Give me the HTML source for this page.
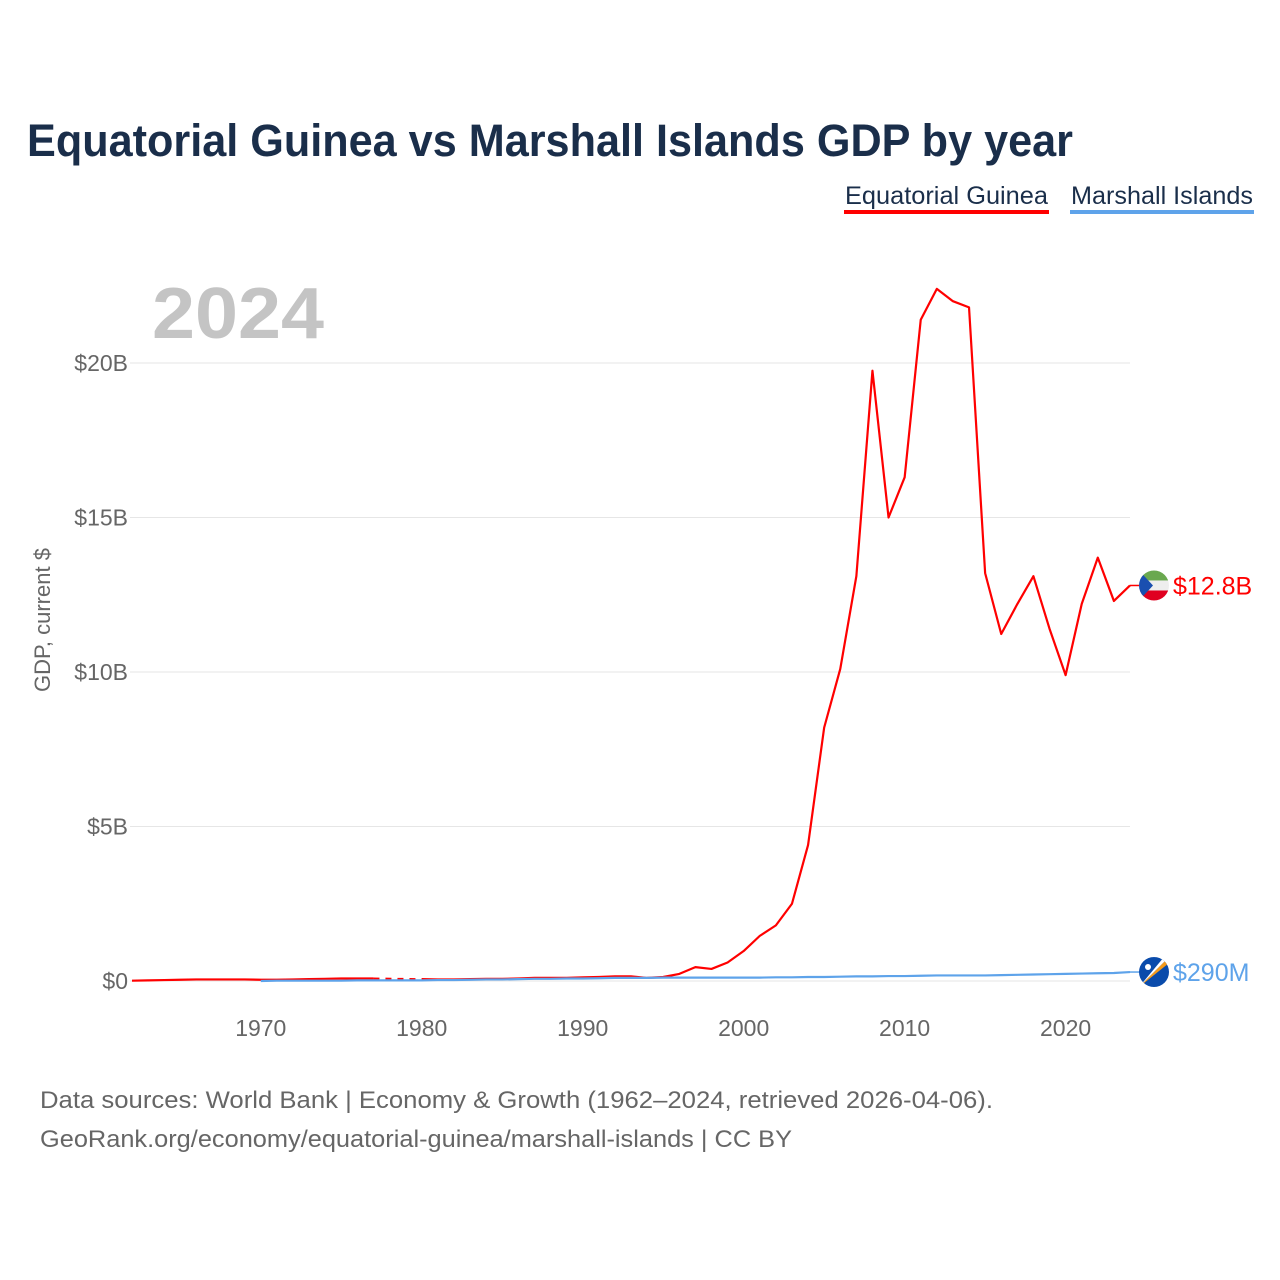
<!DOCTYPE html>
<html><head><meta charset="utf-8"><style>
body{margin:0;background:#fff;font-family:"Liberation Sans",sans-serif}
#wrap{position:relative;width:1280px;height:1280px;overflow:hidden}
</style></head><body>
<div id="wrap">
<svg id="chart" width="1280" height="1280">
<text x="27" y="156" font-size="45" font-weight="bold" fill="#1a2e4a" textLength="1046" lengthAdjust="spacingAndGlyphs">Equatorial Guinea vs Marshall Islands GDP by year</text>
<g><text x="845" y="204" font-size="25" fill="#1a2e4a" textLength="203" lengthAdjust="spacingAndGlyphs">Equatorial Guinea</text><rect x="844" y="210" width="205" height="4" fill="#ff0000"/></g>
<g><text x="1071" y="204" font-size="25" fill="#1a2e4a" textLength="182" lengthAdjust="spacingAndGlyphs">Marshall Islands</text><rect x="1070" y="210" width="184" height="4" fill="#5ea3ea"/></g>
<text x="152" y="338" font-size="72" font-weight="bold" fill="#c4c4c4" textLength="172" lengthAdjust="spacingAndGlyphs">2024</text>
<text transform="translate(50,620) rotate(-90)" font-size="22" fill="#666" text-anchor="middle">GDP, current $</text>
<g id="grid"></g><g id="yticks"></g><g id="xticks"></g><g id="lines"></g>
<text x="40" y="1108" font-size="24" fill="#666" textLength="953" lengthAdjust="spacingAndGlyphs">Data sources: World Bank | Economy &amp; Growth (1962–2024, retrieved 2026-04-06).</text>
<text x="40" y="1147" font-size="24" fill="#666" textLength="752" lengthAdjust="spacingAndGlyphs">GeoRank.org/economy/equatorial-guinea/marshall-islands | CC BY</text>
</svg></div>
<script>
const years=[];for(let y=1962;y<=2024;y++)years.push(y);
const egValues=[0.01,0.02,0.03,0.04,0.05,0.05,0.05,0.05,0.04,0.04,0.05,0.06,0.07,0.08,0.08,0.08,null,null,0.06,0.05,0.05,0.06,0.07,0.07,0.08,0.1,0.1,0.1,0.12,0.13,0.15,0.15,0.1,0.13,0.23,0.45,0.39,0.6,0.97,1.46,1.8,2.5,4.4,8.2,10.1,13.1,19.75,15.0,16.3,21.4,22.4,22.0,21.8,13.2,11.23,12.2,13.1,11.4,9.9,12.2,13.7,12.3,12.8];
const miValues=[null,null,null,null,null,null,null,null,0.0,0.01,0.01,0.01,0.01,0.01,0.02,0.02,0.02,0.02,0.02,0.03,0.03,0.04,0.05,0.05,0.06,0.07,0.07,0.08,0.08,0.09,0.1,0.1,0.1,0.11,0.11,0.11,0.11,0.11,0.11,0.11,0.12,0.12,0.13,0.13,0.14,0.15,0.15,0.16,0.16,0.17,0.18,0.18,0.18,0.18,0.19,0.2,0.21,0.22,0.23,0.24,0.25,0.26,0.29];
const yTickValues=[0,5,10,15,20];
const yTickLabels=["$0","$5B","$10B","$15B","$20B"];
const xTickValues=[1970,1980,1990,2000,2010,2020];
const X=y=>132+(y-1962)*(998/62);
const Y=v=>981-v*30.9;
const NS="http://www.w3.org/2000/svg";
function mk(t,a,p){const e=document.createElementNS(NS,t);for(const k in a)e.setAttribute(k,a[k]);p.appendChild(e);return e;}
const grid=document.getElementById('grid'),yt=document.getElementById('yticks'),xt=document.getElementById('xticks'),L=document.getElementById('lines');
yTickValues.forEach((v,i)=>{
 const g=mk('line',{x1:130,x2:1130,y1:Y(v),y2:Y(v),stroke:'#e6e6e6','stroke-width':1},grid);
 
 
 const t=mk('text',{x:128,y:Y(v)+8,'font-size':23,fill:'#666','text-anchor':'end'},yt);t.textContent=yTickLabels[i];
 
 
});
xTickValues.forEach(v=>{
 const t=mk('text',{x:X(v),y:1036,'font-size':23,fill:'#666','text-anchor':'middle'},xt);t.textContent=v;
 
 
});
function draw(vals,color,name){
 let segs=[],cur=[],last=null;
 vals.forEach((v,i)=>{if(v==null){if(cur.length)segs.push(cur);cur=[];}else{
   if(!cur.length&&last!=null&&last.i<i-1){const d=mk('line',{x1:X(years[last.i]),y1:Y(last.v),x2:X(years[i]),y2:Y(v),stroke:color,'stroke-width':2,'stroke-dasharray':'6,6'},L);
    
    }
   cur.push([X(years[i]),Y(v)]);last={i,v};}});
 if(cur.length)segs.push(cur);
 segs.forEach(s=>{const p=mk('polyline',{points:s.map(q=>q.join(',')).join(' '),fill:'none',stroke:color,'stroke-width':2.2,'stroke-linejoin':'round'},L);
  
  });
 return last;
}
const e=draw(egValues,'#ff0000','equatorial-guinea');
const m=draw(miValues,'#5ea3ea','marshall-islands');
function endLabel(last,color,name,label,flag){
 const y=Y(last.v);const cx=1154;
 mk('line',{x1:1130,y1:y,x2:cx-14,y2:y,stroke:color,'stroke-width':1.5},L);
 const g=mk('g',{},L);
 
 
 const cid='c'+name;const cp=mk('clipPath',{id:cid},g);mk('circle',{cx:cx,cy:y,r:15},cp);
 const gg=mk('g',{'clip-path':'url(#'+cid+')'},g);
 if(flag==='eg'){mk('rect',{x:cx-15,y:y-15,width:30,height:10,fill:'#6aa84f'},gg);mk('rect',{x:cx-15,y:y-5,width:30,height:10,fill:'#eee'},gg);mk('rect',{x:cx-15,y:y+5,width:30,height:10,fill:'#e00020'},gg);mk('polygon',{points:`${cx-15},${y-15} ${cx-1},${y} ${cx-15},${y+15}`,fill:'#1a4fb0'},gg);}
 else{mk('rect',{x:cx-15,y:y-15,width:30,height:30,fill:'#0a4bab'},gg);mk('polygon',{points:`${cx-15},${y+15} ${cx+15},${y-15} ${cx+15},${y-9}`,fill:'#f59b1b'},gg);mk('polygon',{points:`${cx-15},${y+15} ${cx+15},${y-15} ${cx+15},${y-21}`,fill:'#fff'},gg);mk('circle',{cx:cx-6,cy:y-5,r:3,fill:'#fff'},gg);}
 const t=mk('text',{x:1173,y:y+9,'font-size':25,fill:color},L);t.textContent=label;
 
 
}
endLabel(e,'#ff0000','equatorial-guinea','$12.8B','eg');
endLabel(m,'#5ea3ea','marshall-islands','$290M','mi');
</script>
</body></html>
